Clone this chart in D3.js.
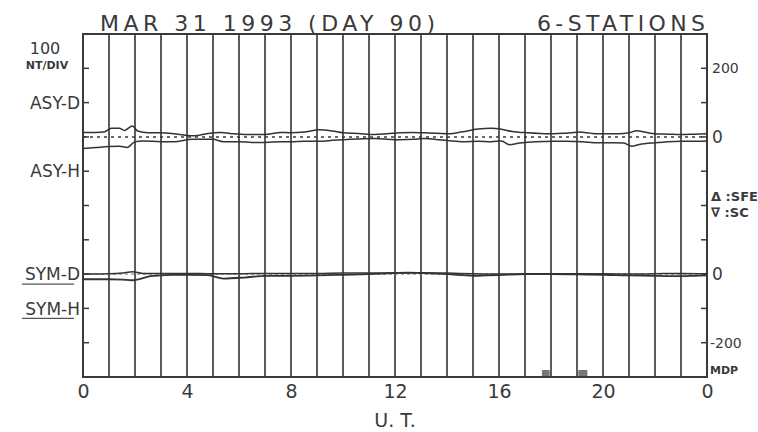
<!DOCTYPE html>
<html><head><meta charset="utf-8">
<script src="https://cdn.jsdelivr.net/npm/d3@7"></script>
<style>
html,body{margin:0;padding:0;background:#fff;}
text{font-family:"DejaVu Sans",sans-serif;fill:#3a3a3a;}
</style></head>
<body><svg id="c" width="758" height="432"></svg>
<script>
// ---- data ----
const asyDTimes = [0,0.5,0.8,1.1,1.4,1.6,1.9,2.1,2.5,3,3.5,4,4.3,4.8,5.3,5.8,6.3,7,7.6,8,8.5,9.1,9.6,10,10.6,11.2,11.7,12.2,12.7,13.1,13.6,14.1,14.6,15.2,15.7,16.1,16.5,17.1,17.6,18.1,18.6,19.1,19.5,19.8,20.2,20.6,21,21.3,21.6,22,22.5,23,23.5,24];
const asyDValues = [13,13,14,25,25,19,32,17,12,12,9,4,3,10,13,9,7,7,13,12,14,21,17,12,10,7,9,12,13,12,11,9,15,23,25,22,16,12,10,9,11,14,11,9,9,9,12,18,14,9,8,7,8,9];
const asyHTimes = [0,0.5,1.0,1.4,1.7,2.0,2.3,3,3.5,4.2,5,5.4,6,6.5,7,7.6,8,8.5,9.1,9.6,10,10.6,11.2,12.2,12.7,13.1,13.7,14.1,14.6,15.2,15.7,16.1,16.4,16.8,17.4,18.1,18.6,19.2,19.8,20.4,20.8,21.1,21.4,22,22.5,23,23.5,24];
const asyHValues = [34,31,28,27,31,14,12,14,14,7,7,14,14,16,16,14,14,13,13,10,8,6,5,8,7,5,8,11,14,13,14,12,23,18,14,13,13,14,17,17,18,27,22,17,14,13,13,12];
const symDTimes = [0,1,1.5,1.9,2.3,3,4,5,6,7,8,9,10,11,12,13,14,15,16,17,18,19,20,21,22,23,24];
const symDValues = [0,1,3,7,2,2,2,1,1,2,2,2,3,3,4,4,3,1,0,1,1,1,1,0,1,2,1];
const symHTimes = [0,0.5,1,1.5,1.9,2.2,2.6,3,3.5,4,4.8,5.4,6.2,7,8,9,10,11,12,12.5,13,14,14.6,15,15.5,16,17,18,19,20,20.5,21,22,22.5,23,23.5,24];
const symHValues = [-15,-15,-15,-16,-18,-14,-6,-4,-2,-2,-3,-13,-10,-5,-5,-4,-2,0,3,4,3,0,-3,-5,-4,-3,0,0,-1,-2,-3,-4,-5,-6,-6,-5,-4];
const mdpStart = [17.65, 19.05];
const mdpEnd = [17.95, 19.4];
const xTickValues = [0,4,8,12,16,20,24];
const leftLabels = [{div:2,text:"ASY-D"},{div:4,text:"ASY-H"},{div:7,text:"SYM-D"},{div:8,text:"SYM-H"}];
const rightLabels = [{div:1,text:"200"},{div:3,text:"0"},{div:7,text:"0"},{div:9,text:"-200"}];

// ---- layout ----
const L=83, R=707, T=34, B=377;
const svg=d3.select("#c");
const x=d3.scaleLinear().domain([0,24]).range([L,R]);
const yDiv=d3.scaleLinear().domain([0,10]).range([T,B]);
const yAsy=d3.scaleLinear().domain([300,-700]).range([T,B]);
const ySym=d3.scaleLinear().domain([700,-300]).range([T,B]);
const ink="#3a3a3a";

// vertical hour lines
svg.append("g").selectAll("line").data(d3.range(1,24)).join("line")
  .attr("x1",d=>x(d)).attr("x2",d=>x(d)).attr("y1",T).attr("y2",B)
  .attr("stroke","#4a4a4a").attr("stroke-width",1.8);

// frame
svg.append("rect").attr("x",L).attr("y",T).attr("width",R-L).attr("height",B-T)
  .attr("fill","none").attr("stroke",ink).attr("stroke-width",2);

// left ticks (inward)
svg.append("g").selectAll("line").data(d3.range(1,10)).join("line")
  .attr("x1",L).attr("x2",L+6).attr("y1",d=>yDiv(d)).attr("y2",d=>yDiv(d))
  .attr("stroke",ink).attr("stroke-width",1.5);
// right ticks (inward)
svg.append("g").selectAll("line").data(d3.range(1,10)).join("line")
  .attr("x1",R-6).attr("x2",R).attr("y1",d=>yDiv(d)).attr("y2",d=>yDiv(d))
  .attr("stroke",ink).attr("stroke-width",1.5);

// zero dotted lines
svg.append("line").attr("x1",L).attr("x2",R).attr("y1",yAsy(0)).attr("y2",yAsy(0))
  .attr("stroke",ink).attr("stroke-width",1.5).attr("stroke-dasharray","3,4");
svg.append("line").attr("x1",L).attr("x2",R).attr("y1",ySym(0)).attr("y2",ySym(0))
  .attr("stroke","#777").attr("stroke-width",1).attr("stroke-dasharray","3,3");

// curves
const line=(ys,sign)=>d3.line().x(d=>x(d[0])).y(d=>ys(sign*d[1])).curve(d3.curveMonotoneX);
function draw(ts,vs,ys,sign,w){
  svg.append("path").datum(d3.zip(ts,vs)).attr("d",line(ys,sign))
    .attr("fill","none").attr("stroke","#333").attr("stroke-width",w);
}
draw(asyDTimes,asyDValues,yAsy,1,1.5);
draw(asyHTimes,asyHValues,yAsy,-1,1.5);
draw(symDTimes,symDValues,ySym,1,1.5);
draw(symHTimes,symHValues,ySym,1,1.8);

// MDP markers
svg.append("g").selectAll("rect").data(d3.zip(mdpStart,mdpEnd)).join("rect")
  .attr("x",d=>x(d[0])).attr("width",d=>x(d[1])-x(d[0]))
  .attr("y",B-7).attr("height",6).attr("fill","#777");

// bottom axis
const xAxis=d3.axisBottom(x).tickValues(xTickValues).tickSize(0).tickPadding(4)
  .tickFormat(d=>d%24);
const gx=svg.append("g").attr("transform",`translate(0,${B})`).call(xAxis);
gx.select(".domain").remove();
gx.selectAll("text").style("font-size","19px").style("font-family","DejaVu Sans").attr("fill",ink).attr("dy","0.9em");
svg.append("text").attr("x",395).attr("y",427).attr("text-anchor","middle")
  .style("font-size","19px").text("U. T.");

// title
svg.append("text").attr("x",100).attr("y",31).attr("textLength",335).attr("lengthAdjust","spacing")
  .style("font-size","22px").text("MAR 31 1993 (DAY 90)");
svg.append("text").attr("x",537).attr("y",31).attr("textLength",168).attr("lengthAdjust","spacing")
  .style("font-size","22px").text("6-STATIONS");

// left labels
svg.append("text").attr("x",45).attr("y",54).attr("text-anchor","middle").style("font-size","16px").text("100");
svg.append("text").attr("x",47).attr("y",69).attr("text-anchor","middle").style("font-size","11px").style("font-weight","bold").text("NT/DIV");
svg.append("g").selectAll("text").data(leftLabels).join("text")
  .attr("x",80).attr("y",d=>yDiv(d.div)).attr("dy","0.36em").attr("text-anchor","end")
  .style("font-size","17px").text(d=>d.text);
// underlines for SYM labels
svg.append("g").selectAll("line").data(leftLabels.filter(d=>d.div>=7)).join("line")
  .attr("x1",22).attr("x2",74).attr("y1",d=>yDiv(d.div)+10).attr("y2",d=>yDiv(d.div)+10)
  .attr("stroke","#555").attr("stroke-width",1.2);

// right labels
svg.append("g").selectAll("text").data(rightLabels).join("text")
  .attr("x",d=>d.text.startsWith("-")?710:712).attr("y",d=>yDiv(d.div)).attr("dy","0.36em")
  .style("font-size",d=>d.text==="0"?"17px":"14px").text(d=>d.text);
svg.append("text").attr("x",710).attr("y",374).style("font-size","11px").style("font-weight","bold").text("MDP");
svg.append("text").attr("x",711).attr("y",201).style("font-size","13px").style("font-weight","bold").text("\u0394 :SFE");
svg.append("text").attr("x",711).attr("y",217).style("font-size","13px").style("font-weight","bold").text("\u2207 :SC");
</script></body></html>
